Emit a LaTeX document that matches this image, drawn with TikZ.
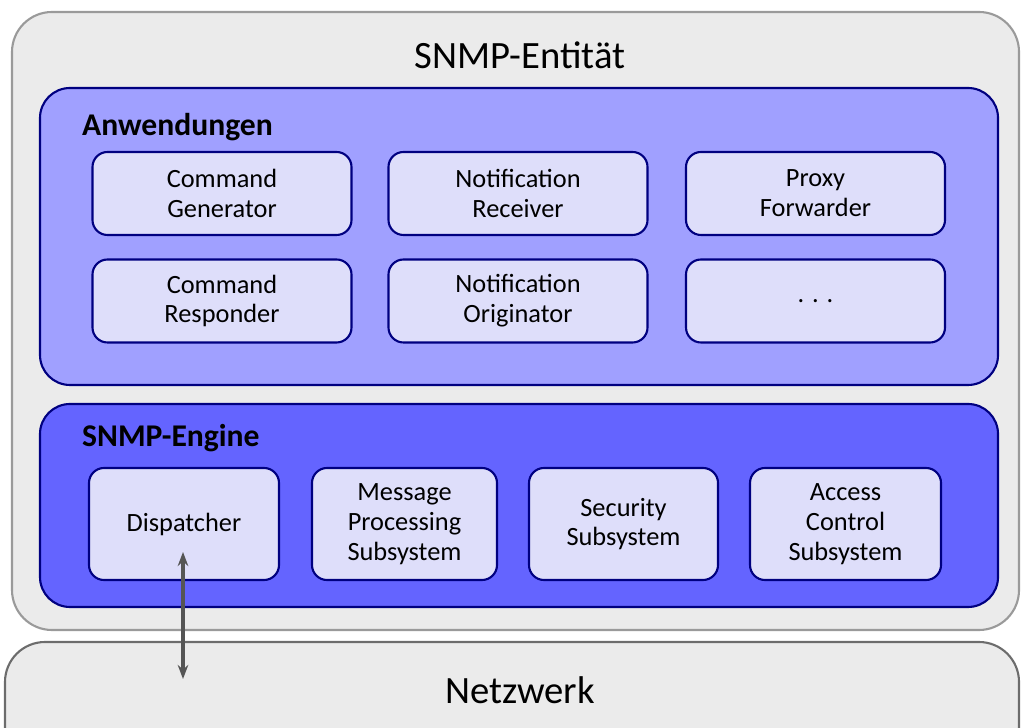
\documentclass[tikz,border=0pt]{standalone}
\usepackage{fontspec}
\setmainfont{Carlito}
\usepackage{tikz}
\usetikzlibrary{calc}
\usetikzlibrary{positioning}
\usetikzlibrary{arrows.meta}

\definecolor{entgray}{HTML}{EBEBEB}
\definecolor{entline}{HTML}{9A9A9A}
\definecolor{appblue}{HTML}{A0A0FF}
\definecolor{engblue}{HTML}{6464FF}
\definecolor{boxblue}{HTML}{DEDEFA}
\definecolor{navy}{HTML}{000080}

\begin{document}
\begin{tikzpicture}[
        layer/.style={draw=navy, line width=1.2pt, rounded corners=0.6cm},
        modul/.style={draw=navy, line width=1.2pt, fill=boxblue, rounded corners=0.3cm,
            align=center, font=\fontsize{15}{17}\selectfont, inner sep=0pt},
        appbox/.style={modul, minimum width=5.18cm, minimum height=1.66cm},
        engbox/.style={modul, minimum height=2.24cm}
    ]
        \useasboundingbox (0,0) rectangle (20.42,14.56);

        % Entitaet und Netzwerk
        \begin{scope}
            \clip (0,0) rectangle (20.42,14.56);
            \draw[entline, line width=1.2pt, fill=entgray, rounded corners=0.8cm]
                (0.24,1.96) rectangle (20.38,14.32);
            \draw[entline!70!black, line width=1.2pt, fill=entgray, rounded corners=0.8cm]
                (0.1,-1.0) rectangle (20.38,1.72);
            \node (ent) at (10.4,13.45) {\fontsize{22}{26}\selectfont SNMP-Entität};
            \node (netz) at (10.4,0.76) {\fontsize{22}{26}\selectfont Netzwerk};
        \end{scope}

        % Anwendungen
        \begin{scope}
            \draw[layer, fill=appblue] (0.8,6.86) rectangle (19.96,12.8);
            \node[anchor=west] (anw) at (1.52,12.02) {\fontsize{18}{20}\selectfont\bfseries Anwendungen};

            \node[appbox] (cg) at (4.44,10.69) {Command\\Generator};
            \node[appbox] (nr) at (10.36,10.69) {Notification\\Receiver};
            \node[appbox] (pf) at (16.31,10.69) {Proxy\\Forwarder};
            \node[appbox] (cr) at (4.44,8.54) {Command\\Responder};
            \node[appbox] (no) at (10.36,8.54) {Notification\\Originator};
            \node[appbox] (dots) at (16.31,8.54) {. . .};
        \end{scope}

        % SNMP-Engine
        \begin{scope}
            \draw[layer, fill=engblue] (0.8,2.42) rectangle (19.96,6.48);
            \node[anchor=west] (eng) at (1.52,5.8) {\fontsize{18}{20}\selectfont\bfseries SNMP-Engine};

            \node[engbox, minimum width=3.8cm] (disp) at (3.68,4.08) {Dispatcher};
            \node[engbox, minimum width=3.7cm] (mps) at (8.09,4.08) {Message\\Processing\\Subsystem};
            \node[engbox, minimum width=3.78cm] (sec) at (12.47,4.08) {Security\\Subsystem};
            \node[engbox, minimum width=3.82cm] (acs) at (16.91,4.08) {Access\\Control\\Subsystem};
        \end{scope}

        \coordinate (dtop) at (3.66,3.52);
        \coordinate (nend) at (3.66,0.98);
        \draw[{Stealth[length=8pt,width=6pt]}-{Stealth[length=8pt,width=6pt]}, entline!55!black, line width=1.8pt]
            (dtop) -- (nend);
    \end{tikzpicture}
\end{document}
